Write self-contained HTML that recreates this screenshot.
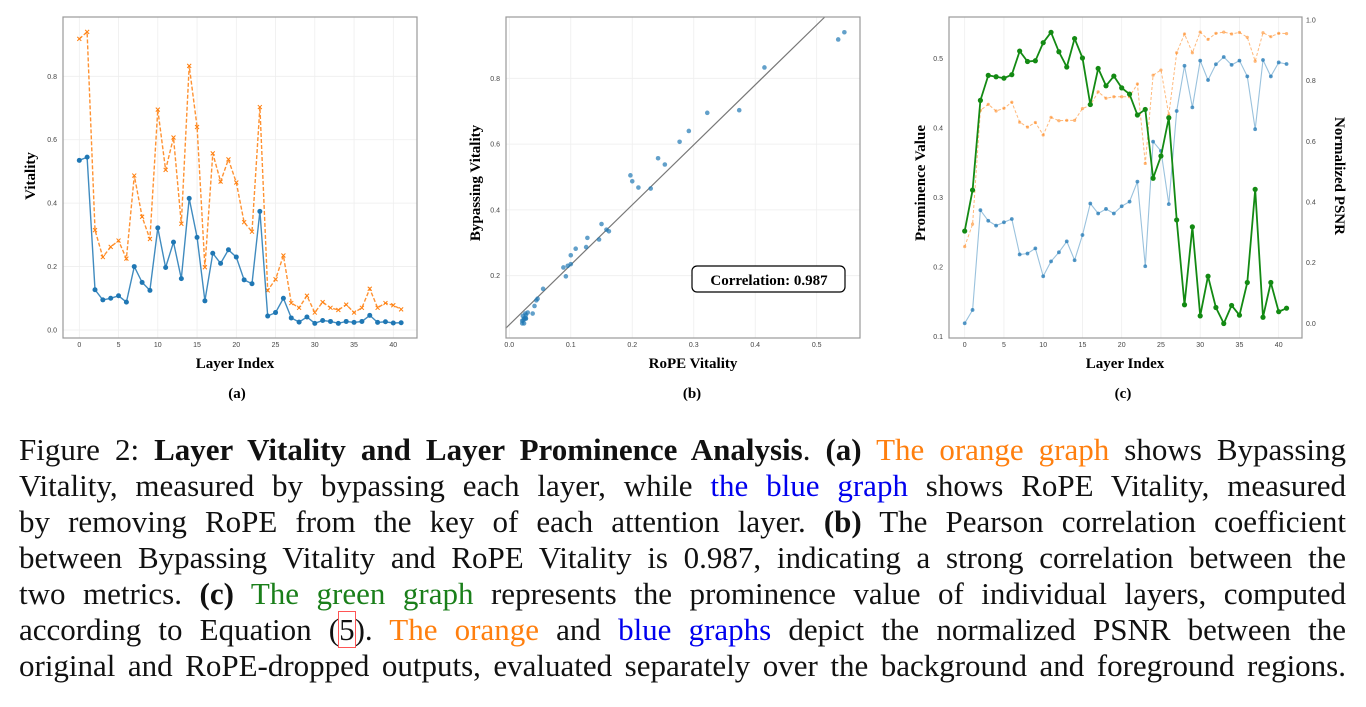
<!DOCTYPE html>
<html><head><meta charset="utf-8">
<style>
body{margin:0;width:1366px;height:707px;background:#fff;overflow:hidden;font-family:"Liberation Serif",serif;}
svg{position:absolute;left:0;top:0;}
.cap{position:absolute;left:19px;width:1327px;font-size:31px;line-height:36px;text-align:justify;text-align-last:justify;white-space:nowrap;color:#111;}
.o{color:#ff7f0e}.b{color:#0000ee}.g{color:#1a7f1a}
</style></head><body>
<svg id="fig" width="1366" height="420"></svg>
<div class="cap" style="top:432px">Figure 2: <b>Layer Vitality and Layer Prominence Analysis</b>. <b>(a)</b> <span class="o">The orange graph</span> shows Bypassing</div>
<div class="cap" style="top:468px">Vitality, measured by bypassing each layer, while <span class="b">the blue graph</span> shows RoPE Vitality, measured</div>
<div class="cap" style="top:504px">by removing RoPE from the key of each attention layer. <b>(b)</b> The Pearson correlation coefficient</div>
<div class="cap" style="top:540px">between Bypassing Vitality and RoPE Vitality is 0.987, indicating a strong correlation between the</div>
<div class="cap" style="top:576px">two metrics. <b>(c)</b> <span class="g">The green graph</span> represents the prominence value of individual layers, computed</div>
<div class="cap" style="top:612px">according to Equation (<span style="outline:1px solid #f55">5</span>). <span class="o">The orange</span> and <span class="b">blue graphs</span> depict the normalized PSNR between the</div>
<div class="cap" style="top:648px">original and RoPE-dropped outputs, evaluated separately over the background and foreground regions.</div>
<script>
const layers=[...Array(42).keys()];
const ropeVitality=[.535,.545,.127,.095,.10,.108,.088,.20,.15,.125,.322,.197,.277,.162,.415,.292,.092,.242,.21,.253,.23,.158,.146,.374,.044,.055,.10,.038,.025,.041,.021,.03,.027,.021,.027,.024,.027,.046,.024,.026,.022,.023];
const bypassVitality=[.918,.94,.315,.23,.262,.282,.225,.487,.357,.287,.695,.505,.607,.335,.833,.64,.198,.557,.468,.538,.465,.34,.31,.703,.125,.16,.235,.085,.07,.108,.055,.088,.07,.063,.08,.055,.07,.13,.07,.085,.078,.065];
const prominence=[.252,.311,.44,.476,.474,.472,.477,.511,.496,.497,.523,.538,.51,.488,.529,.501,.434,.486,.461,.475,.458,.449,.419,.427,.328,.36,.415,.268,.146,.258,.13,.187,.142,.119,.145,.131,.178,.312,.128,.178,.136,.141];
const psnrBackground=[.253,.327,.702,.722,.70,.709,.729,.663,.647,.662,.621,.679,.668,.669,.669,.708,.719,.763,.742,.747,.747,.747,.789,.527,.818,.835,.687,.892,.954,.892,.96,.936,.956,.96,.954,.959,.943,.864,.958,.945,.956,.955];
const psnrForeground=[0,.044,.373,.338,.322,.333,.344,.227,.23,.247,.155,.204,.234,.27,.208,.291,.395,.362,.377,.362,.386,.401,.467,.188,.599,.568,.393,.70,.849,.712,.866,.802,.854,.878,.852,.866,.814,.64,.868,.814,.86,.855];
const layerTicks=[0,5,10,15,20,25,30,35,40];
const vitalityTicks=[0,0.2,0.4,0.6,0.8];
const ropeTicks=[0,0.1,0.2,0.3,0.4,0.5];
const bypTicks=[0.2,0.4,0.6,0.8];
const promTicks=[0.1,0.2,0.3,0.4,0.5];
const psnrTicks=[0,0.2,0.4,0.6,0.8,1.0];
const correlationText="Correlation: 0.987";

const svg=document.getElementById('fig');
const NS='http://www.w3.org/2000/svg';
function mk(tag,at,parent){const e=document.createElementNS(NS,tag);for(const k in at)e.setAttribute(k,at[k]);(parent||svg).appendChild(e);return e;}
function txt(x,y,s,at){const e=mk('text',Object.assign({x:x,y:y,'font-family':'Liberation Sans, sans-serif','font-size':7,fill:'#444','text-anchor':'middle'},at||{}));e.textContent=s;return e;}
function lin(d0,d1,r0,r1){return v=>r0+(v-d0)*(r1-r0)/(d1-d0);}
function frame(x0,y0,x1,y1,name){const r=mk('rect',{x:x0,y:y0,width:x1-x0,height:y1-y0,fill:'none',stroke:'#999','stroke-width':1.2});}
function grid(x0,y0,x1,y1,xs,ys,X,Y){xs.forEach(t=>mk('line',{x1:X(t),x2:X(t),y1:y0,y2:y1,stroke:'#eee','stroke-width':0.8}));ys.forEach(t=>mk('line',{x1:x0,x2:x1,y1:Y(t),y2:Y(t),stroke:'#eee','stroke-width':0.8}));}
function path(xs,ys,X,Y,at,name){const d=xs.map((v,i)=>(i?'L':'M')+X(v).toFixed(1)+','+Y(ys[i]).toFixed(1)).join('');const p=mk('path',Object.assign({d:d,fill:'none'},at));return p;}
function dots(xs,ys,X,Y,r,c,op,name){const g=mk('g',{});xs.forEach((v,i)=>mk('circle',{cx:X(v),cy:Y(ys[i]),r:r,fill:c,'fill-opacity':op},g));}
function crosses(xs,ys,X,Y,c,name){const g=mk('g',{stroke:c,'stroke-width':1});xs.forEach((v,i)=>{const x=X(v),y=Y(ys[i]);mk('path',{d:`M${x-2},${y-2}L${x+2},${y+2}M${x-2},${y+2}L${x+2},${y-2}`},g);});}
function bold(x,y,s,size,rot,name){const e=txt(x,y,s,{'font-family':'Liberation Serif, serif','font-size':size,'font-weight':'bold',fill:'#000'});if(rot)e.setAttribute('transform',`rotate(${rot} ${x} ${y})`);}

// Panel A
{const x0=63,x1=417,y0=17,y1=338;const X=lin(0,40,79.3,393.3),Y=lin(0,0.8,330,76.3);
grid(x0,y0,x1,y1,layerTicks,vitalityTicks,X,Y);
path(layers,bypassVitality,X,Y,{stroke:'#ff7f0e','stroke-width':1.4,'stroke-dasharray':'4,2','stroke-opacity':0.85},'bypassing-vitality-line');
crosses(layers,bypassVitality,X,Y,'#ff7f0e','bypassing-vitality-markers');
path(layers,ropeVitality,X,Y,{stroke:'#1f77b4','stroke-width':1.4,'stroke-opacity':0.85},'rope-vitality-line');
dots(layers,ropeVitality,X,Y,2.5,'#1f77b4',1,'rope-vitality-markers');
frame(x0,y0,x1,y1,'panel-a-frame');
layerTicks.forEach(t=>txt(X(t),347,t));vitalityTicks.forEach(t=>txt(57,Y(t)+2.5,t.toFixed(1),{'text-anchor':'end'}));
bold(35,176,'Vitality',15,-90,'y-axis-title-a');bold(235,368,'Layer Index',15,0,'x-axis-title-a');bold(237,398,'(a)',15,0,'panel-label-a');}

// Panel B
{const x0=506,x1=860,y0=17,y1=338;const X=lin(0,0.5,509.3,816.7),Y=lin(0.2,0.8,275.7,78.3);
grid(x0,y0,x1,y1,ropeTicks,bypTicks,X,Y);
const n=ropeVitality.length;let mx=0,my=0;for(let i=0;i<n;i++){mx+=ropeVitality[i];my+=bypassVitality[i];}mx/=n;my/=n;
let sxy=0,sxx=0;for(let i=0;i<n;i++){sxy+=(ropeVitality[i]-mx)*(bypassVitality[i]-my);sxx+=(ropeVitality[i]-mx)**2;}
const k=sxy/sxx,b0=my-k*mx;const xa=-0.006;
const topX=((0.8+(78.3-17)/329)-b0)/k;
const ln=mk('line',{x1:X(xa),y1:Y(b0+k*xa),x2:X(topX),y2:17,stroke:'#777','stroke-width':1.2});
dots(ropeVitality,bypassVitality,X,Y,2.3,'#1f77b4',0.7,'scatter-points');
frame(x0,y0,x1,y1,'panel-b-frame');
ropeTicks.forEach(t=>txt(X(t),347,t.toFixed(1)));bypTicks.forEach(t=>txt(500,Y(t)+2.5,t.toFixed(1),{'text-anchor':'end'}));
const bx=mk('rect',{x:692,y:266,width:153,height:26,rx:5,fill:'#fff',stroke:'#000','stroke-width':1.2});
bold(769,285,correlationText,15,0,'correlation-label');
bold(480,183,'Bypassing Vitality',15,-90,'y-axis-title-b');bold(693,368,'RoPE Vitality',15,0,'x-axis-title-b');bold(692,398,'(b)',15,0,'panel-label-b');}

// Panel C
{const x0=949,x1=1302,y0=17,y1=338;const X=lin(0,40,964.7,1278.7),Y=lin(0.1,0.5,336.7,58.7),Y2=lin(0,1,323.3,20);
grid(x0,y0,x1,y1,layerTicks,[],X,Y);
path(layers,psnrBackground,X,Y2,{stroke:'#ff7f0e','stroke-width':1,'stroke-dasharray':'3,2','stroke-opacity':0.55},'psnr-background-line');
dots(layers,psnrBackground,X,Y2,1.6,'#ff7f0e',0.55,'psnr-background-markers');
path(layers,psnrForeground,X,Y2,{stroke:'#1f77b4','stroke-width':1.1,'stroke-opacity':0.45},'psnr-foreground-line');
dots(layers,psnrForeground,X,Y2,1.9,'#1f77b4',0.75,'psnr-foreground-markers');
path(layers,prominence,X,Y,{stroke:'#138a13','stroke-width':1.8},'prominence-line');
dots(layers,prominence,X,Y,2.6,'#138a13',1,'prominence-markers');
frame(x0,y0,x1,y1,'panel-c-frame');
layerTicks.forEach(t=>txt(X(t),347,t));promTicks.forEach(t=>txt(943,Y(t)+2.5,t.toFixed(1),{'text-anchor':'end'}));
psnrTicks.forEach(t=>txt(1306,Y2(t)+2.5,t.toFixed(1),{'text-anchor':'start'}));
bold(925,183,'Prominence Value',15,-90,'y-axis-title-c');bold(1335,176,'Normalized PSNR',15,90,'y2-axis-title-c');
bold(1125,368,'Layer Index',15,0,'x-axis-title-c');bold(1123,398,'(c)',15,0,'panel-label-c');}
</script>
</body></html>
